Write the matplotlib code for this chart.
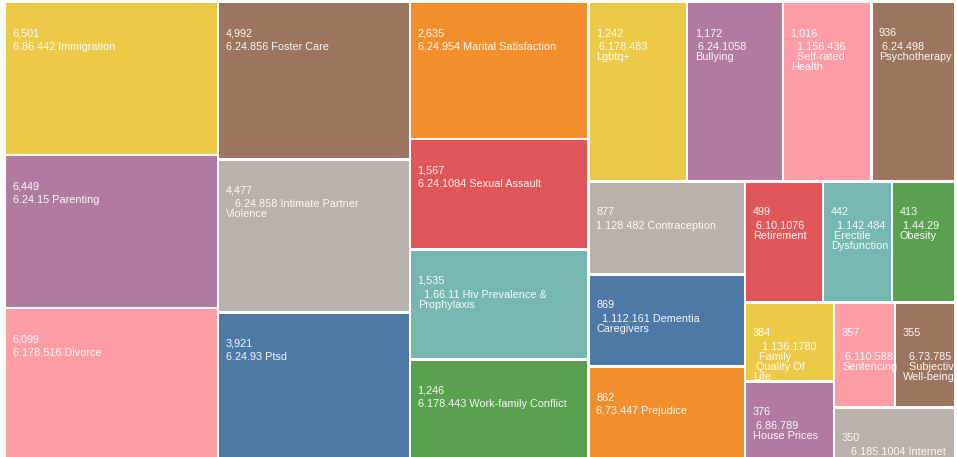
import numpy as np
import matplotlib
matplotlib.use("Agg")
import matplotlib.pyplot as plt
from matplotlib.patches import Rectangle

# ---- data ----
counts = [6501, 6449, 6099, 4992, 4477, 3921, 2635, 1567, 1535, 1246,
          1242, 1172, 1016, 936, 877, 869, 862, 499, 442, 413,
          384, 376, 357, 355, 350]
labels = [
    "6.86.442 Immigration",
    "6.24.15 Parenting",
    "6.178.516 Divorce",
    "6.24.856 Foster Care",
    "   6.24.858 Intimate Partner\nViolence",
    "6.24.93 Ptsd",
    "6.24.954 Marital Satisfaction",
    "6.24.1084 Sexual Assault",
    "  1.66.11 Hiv Prevalence &\nProphylaxis",
    "6.178.443 Work-family Conflict",
    " 6.178.483\nLgbtq+",
    " 6.24.1058\nBullying",
    "  1.156.436\n  Self-rated\nHealth",
    " 6.24.498\nPsychotherapy",
    "1.128.482 Contraception",
    "  1.112.161 Dementia\nCaregivers",
    "6.73.447 Prejudice",
    " 6.10.1076\nRetirement",
    "  1.142.484\n Erectile\nDysfunction",
    " 1.44.29\nObesity",
    "   1.136.1780\n  Family\n Quality Of\nLife",
    " 6.86.789\nHouse Prices",
    "\n 6.110.588\nSentencing",
    "\n  6.73.785\n  Subjective\nWell-being",
    "   6.185.1004 Internet",
]
palette = ["#EDC948", "#B07AA1", "#FF9DA7", "#9C755F", "#BAB0AC",
           "#4E79A7", "#F28E2B", "#E15759", "#76B7B2", "#59A14F"]

# ---- layout (d3-style squarify on log-scaled sizes) ----
SIZE_FLOOR = 176.0
weights = list(np.log(np.array(counts, dtype=float) / SIZE_FLOOR))


def squarify(values, x0, y0, x1, y1, ratio=(1 + 5 ** 0.5) / 2):
    rects = [None] * len(values)
    n = len(values)
    i0 = i1 = 0
    total = float(sum(values))
    while i0 < n:
        dx, dy = x1 - x0, y1 - y0
        s = values[i1]
        i1 += 1
        mn = mx = s
        alpha = max(dy / dx, dx / dy) / (total * ratio)
        beta = s * s * alpha
        min_ratio = max(mx / beta, beta / mn)
        while i1 < n:
            v = values[i1]
            s2 = s + v
            mn2, mx2 = min(mn, v), max(mx, v)
            beta = s2 * s2 * alpha
            nr = max(mx2 / beta, beta / mn2)
            if nr > min_ratio:
                break
            s, mn, mx, min_ratio = s2, mn2, mx2, nr
            i1 += 1
        row = range(i0, i1)
        if dx < dy:
            h = dy * s / total
            xx = x0
            for j in row:
                w = dx * values[j] / s
                rects[j] = (xx, y0, w, h)
                xx += w
            y0 += h
        else:
            w = dx * s / total
            yy = y0
            for j in row:
                h = dy * values[j] / s
                rects[j] = (x0, yy, w, h)
                yy += h
            x0 += w
        total -= s
        i0 = i1
    return rects


W, H = 957, 457
fig = plt.figure(figsize=(W / 100, H / 100), dpi=100)
ax = fig.add_axes([0, 0, 1, 1])
ax.set_xlim(0, W)
ax.set_ylim(H, 0)
ax.axis("off")

rects = squarify(weights, 4.7, 2.0, 955.6, 458.5)
pad = 1.3
font = dict(family=["Liberation Sans", "DejaVu Sans"], fontsize=7.8,
            color="white", alpha=0.95)

for i, (x, y, w, h) in enumerate(rects):
    xi, yi = x + pad, y + pad
    patch = Rectangle((xi, yi), w - 2 * pad, h - 2 * pad,
                      facecolor=palette[i % len(palette)], edgecolor="none")
    ax.add_patch(patch)
    t = ax.text(xi + 6.3, yi + 32.7, f"{counts[i]:,}", va="baseline",
                ha="left", **font)
    t.set_clip_path(patch)
    for k, line in enumerate(labels[i].split("\n")):
        if not line:
            continue
        t = ax.text(xi + 6.6, yi + 46.5 + 10 * k, line, va="baseline",
                    ha="left", **font)
        t.set_clip_path(patch)

fig.savefig("out.png", dpi=100, facecolor="white")
